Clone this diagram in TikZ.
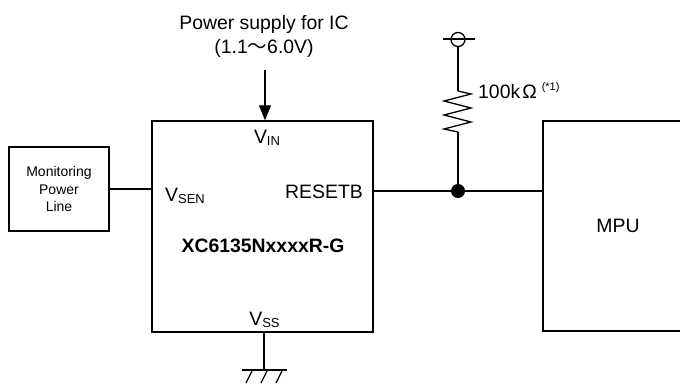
\documentclass[tikz,border=0pt]{standalone}
\usepackage{fontspec}
\setmainfont{Liberation Sans}
\newfontfamily\cjkfont{Noto Sans CJK JP}
\usetikzlibrary{arrows.meta}
\newcommand\sbs[1]{\raisebox{-2.5pt}{\fontsize{13}{13}\selectfont #1}}
\begin{document}
\begin{tikzpicture}[x=1pt,y=-1pt,
  every node/.style={font=\fontsize{19.4}{23}\selectfont},
  wire/.style={line width=1.3pt},
  box/.style={draw, line width=1.4pt, inner sep=0pt},
  lbl/.style={inner sep=0pt}]
\useasboundingbox (0,0) rectangle (680,383);
% boxes
\node[box, minimum width=221pt, minimum height=211pt] (ic) at (262.5,226.5) {};
\node[box, minimum width=100pt, minimum height=84pt, align=center,
      font=\fontsize{14}{17.5}\selectfont] (mon) at (59,189) {Monitoring\\Power\\Line};
\node[box, minimum width=150pt, minimum height=210pt] (mpu) at (618,226) {MPU};
% supply text and arrow
\node[lbl, anchor=base] (ps1) at (264,29) {Power supply for IC};
\node[lbl, anchor=base] (ps2) at (264,53) {(1.1{\cjkfont 〜}6.0V)};
\coordinate (atop) at (265,70);
\draw[wire, -{Triangle[width=12pt,length=15pt]}] (atop) -- (atop |- ic.north);
% pin labels
\node[lbl, anchor=base] (vin) at (267,143) {V\sbs{IN}};
\node[lbl, anchor=base west] (vsen) at (165,201) {V\sbs{SEN}};
\node[lbl, anchor=base east] (rst) at (363,198) {RESETB};
\node[lbl, anchor=base] (xc) at (263,252) {\bfseries XC6135NxxxxR-G};
\node[lbl, anchor=base] (vss) at (264.5,325) {V\sbs{SS}};
% sense line
\draw[wire] (mon.east) -- (mon.east -| ic.west);
% reset line with junction
\coordinate (j) at (458,191);
\draw[wire] (ic.east |- j) -- (j) -- (j -| mpu.west);
\fill (j) circle (7pt);
% pull-up resistor
\node[draw, wire, circle, minimum size=14pt, inner sep=0pt] (vdd) at (458,39.5) {};
\coordinate (hl) at (443,39);
\coordinate (hr) at (475,39);
\draw[wire] (hl) -- (hr);
\coordinate (rt) at (458,91);
\coordinate (rb) at (458,132);
\draw[wire] (vdd.south) -- (rt);
\draw[wire, line join=miter] (rt) -- (471,94) -- (444,101) -- (471,108) -- (444,115)
   -- (471,122) -- (444,129) -- (rb);
\draw[wire] (rb) -- (j);
\node[lbl, anchor=base west] (rlab) at (478,98)
   {100k\hspace{2pt}Ω\hspace{5pt}\raisebox{8pt}{\fontsize{11}{11}\selectfont (*1)}};
% ground
\coordinate (g) at (264,370);
\draw[wire] (ic.south -| g) -- (g);
\coordinate (gl) at (242,370);
\coordinate (gr) at (287,370);
\draw[wire] (gl) -- (gr);
\draw[wire] (252,371) -- (246,383);
\draw[wire] (267,371) -- (261,383);
\draw[wire] (282,371) -- (276,383);
\end{tikzpicture}
\end{document}
